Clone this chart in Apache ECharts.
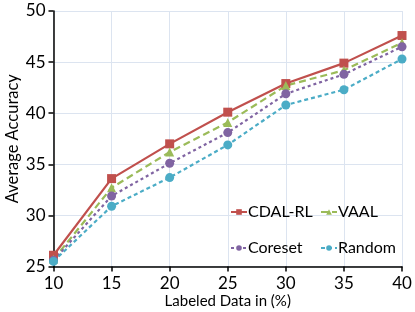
<!DOCTYPE html>
<html><head><meta charset="utf-8">
<script src="https://cdn.jsdelivr.net/npm/echarts@6/dist/echarts.min.js"></script>
<style>html,body{margin:0;padding:0;background:#fff}#c{width:415px;height:312px}</style>
</head><body><div id="c"></div>
<script>
var xCats = [10, 15, 20, 25, 30, 35, 40];
var cdal = [26.1, 33.6, 37.0, 40.1, 42.9, 44.9, 47.6];
var vaal = [25.7, 32.7, 36.2, 39.1, 42.7, 44.2, 46.9];
var coreset = [25.6, 31.9, 35.1, 38.1, 41.9, 43.8, 46.5];
var random = [25.5, 30.9, 33.7, 36.9, 40.8, 42.3, 45.3];

var F = 'Lato, "Open Sans", sans-serif';
function ser(name, data, color, symbol, size, type) {
  return {
    name: name, type: 'line', data: xCats.map(function (x, i) { return [x, data[i]]; }),
    symbol: symbol, symbolSize: size,
    lineStyle: { color: color, width: 2.2, type: type },
    itemStyle: { color: color }
  };
}
var chart = echarts.init(document.getElementById('c'));
function leg(name, left, top) {
  return {
    data: [name], left: left, top: top, padding: 0,
    itemWidth: 16, itemHeight: 7,
    textStyle: { fontFamily: F, fontSize: 16, color: '#000', padding: [0, 0, 0, -4] }
  };
}
chart.setOption({
  animation: false,
  grid: { left: 53.5, right: 13, top: 11, bottom: 45.5, containLabel: false, outerBoundsMode: 'none' },
  legend: [
    leg('CDAL-RL', 230, 204),
    leg('VAAL', 320, 204),
    leg('Coreset', 230, 240),
    leg('Random', 320, 240)
  ],
  xAxis: {
    type: 'value', min: 10, max: 40, interval: 5,
    name: 'Labeled Data in (%)', nameLocation: 'middle', nameGap: 27, nameMoveOverlap: false,
    nameTextStyle: { fontFamily: F, fontSize: 15, color: '#000' },
    axisLine: { lineStyle: { color: '#000', width: 1.5 } },
    axisTick: { show: true, length: 5, lineStyle: { color: '#000', width: 1.5 } },
    axisLabel: { fontFamily: F, fontSize: 17, color: '#000', margin: 9 },
    splitLine: { show: true, lineStyle: { color: '#dce4f0', width: 1 } }
  },
  yAxis: {
    type: 'value', min: 25, max: 50, interval: 5,
    name: 'Average Accuracy', nameLocation: 'middle', nameGap: 32, nameMoveOverlap: false,
    nameTextStyle: { fontFamily: F, fontSize: 16.5, color: '#000' },
    axisLine: { show: true, lineStyle: { color: '#000', width: 1.5 } },
    axisTick: { show: true, length: 5, lineStyle: { color: '#000', width: 1.5 } },
    axisLabel: { fontFamily: F, fontSize: 17, color: '#000', margin: 8 },
    splitLine: { show: true, lineStyle: { color: '#dce4f0', width: 1 } }
  },
  series: [
    ser('CDAL-RL', cdal, '#c0504d', 'rect', 9, 'solid'),
    ser('VAAL', vaal, '#9bbb59', 'triangle', 9, [7, 4]),
    ser('Coreset', coreset, '#8064a2', 'circle', 9, [3, 3]),
    ser('Random', random, '#4bacc6', 'circle', 9, [4, 3])
  ]
});
</script></body></html>
